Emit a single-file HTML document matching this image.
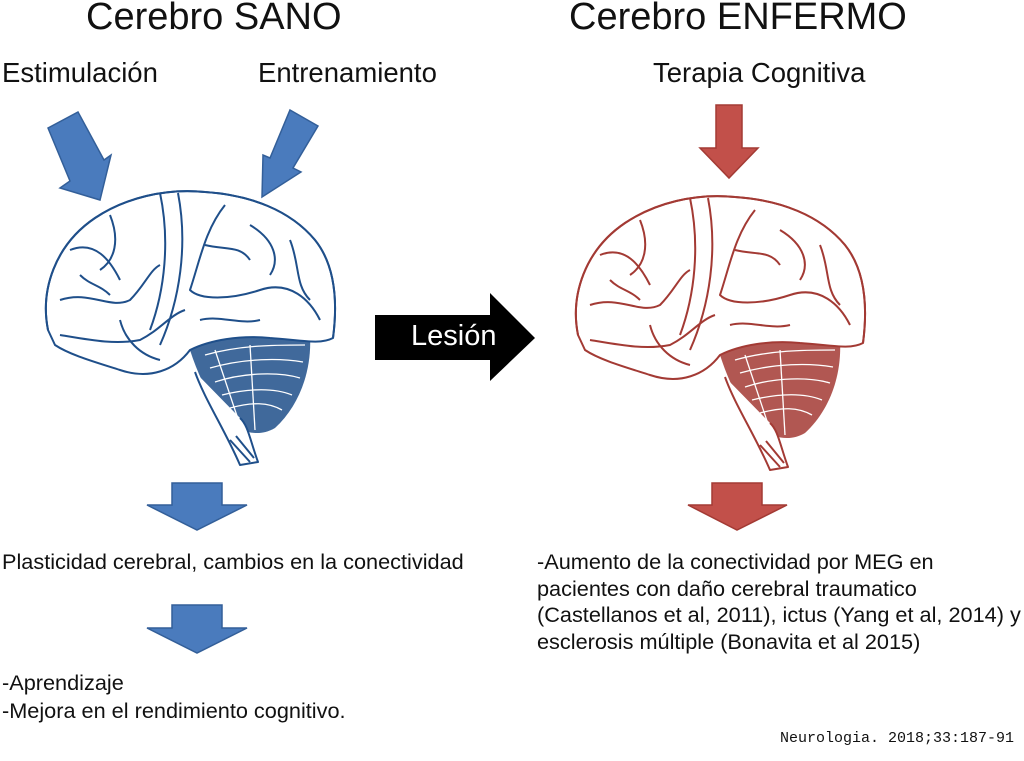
<!DOCTYPE html>
<html><head><meta charset="utf-8"><style>
html,body{margin:0;padding:0;background:#fff;}
body{width:1024px;height:761px;overflow:hidden;position:relative;font-family:"Liberation Sans",Arial,sans-serif;color:#111;}
.t{position:absolute;white-space:nowrap;}
</style></head><body>
<svg width="1024" height="761" style="position:absolute;left:0;top:0">
<defs>
<g id="brain" fill="none" stroke="currentColor" stroke-width="2" stroke-linejoin="round">
 <path d="M190,350 C215,335 260,330 310,335 C312,370 300,405 275,428 C258,438 240,432 225,420 C210,400 198,375 190,350Z" fill="currentColor" stroke="none" opacity="0.85"/>
 <g stroke="#fff" stroke-width="1.3">
  <path d="M205,355 C240,345 275,345 305,345"/><path d="M210,368 C245,358 280,358 303,362"/>
  <path d="M215,382 C245,372 280,372 300,378"/><path d="M222,395 C250,388 275,388 292,395"/>
  <path d="M230,408 C252,402 268,402 282,410"/><path d="M215,350 L240,425"/><path d="M250,345 L255,430"/>
 </g>
 <path d="M48,330 C40,290 55,245 95,218 C125,198 165,188 205,192 C250,195 290,210 315,240 C335,265 338,300 333,338 C320,345 300,340 270,338 C240,335 210,340 190,350 C175,370 150,380 120,370 C95,362 70,355 55,345 Z" fill="#fff"/>
 <path d="M48,330 C40,290 55,245 95,218 C125,198 165,188 205,192 C250,195 290,210 315,240 C335,265 338,300 333,338"/>
 <path d="M195,372 C205,400 225,430 240,465 L258,462 C250,440 248,425 240,418" fill="#fff"/>
 <path d="M230,440 L250,462 M236,436 L254,458"/>
 <path d="M160,193 C170,240 165,290 150,330"/>
 <path d="M178,193 C188,245 180,300 160,345"/>
 <path d="M225,205 C205,230 200,260 190,290 C200,300 230,300 260,290 C290,280 310,300 320,320"/>
 <path d="M60,300 C90,290 110,310 130,300 C145,285 150,270 160,265"/>
 <path d="M70,250 C95,240 110,260 120,280"/>
 <path d="M110,215 C120,240 115,260 100,270"/>
 <path d="M250,225 C275,240 280,260 270,275"/>
 <path d="M290,240 C300,265 295,285 310,300"/>
 <path d="M60,335 C90,340 115,345 140,340 C160,330 170,315 185,310"/>
 <path d="M200,320 C220,315 240,325 260,320"/>
 <path d="M120,320 C125,340 140,355 160,360"/>
 <path d="M205,245 C225,250 240,245 250,260"/>
 <path d="M80,275 C90,285 100,285 110,295"/>
</g>
</defs>
<use href="#brain" x="0" y="0" style="color:#1f4f8a"/>
<use href="#brain" x="530" y="5" style="color:#a33a34"/>
<polygon points="48,128 78,112 104,160 111,155 100,200 60,188 70,181" fill="#4a7bbd" stroke="#335f99" stroke-width="1.5"/>
<polygon points="290,110 318,126 293,168 301,172 262,197 263,155 270,158" fill="#4a7bbd" stroke="#335f99" stroke-width="1.5"/>
<polygon points="716,105 742,105 742,148 758,148 729,178 700,148 716,148" fill="#c2504a" stroke="#a33a34" stroke-width="1.5"/>
<polygon points="375,315 490,315 490,293 535,338 490,381 490,360 375,360" fill="#000"/>
<polygon points="172,483 222,483 222,505 247,505 197,530 147,505 172,505" fill="#4a7bbd" stroke="#335f99" stroke-width="1.5"/>
<polygon points="172,605 222,605 222,628 247,628 197,653 147,628 172,628" fill="#4a7bbd" stroke="#335f99" stroke-width="1.5"/>
<polygon points="712,483 762,483 762,505 787,505 737,530 688,505 712,505" fill="#c2504a" stroke="#a33a34" stroke-width="1.5"/>
</svg>
<div class="t" style="left:86px;top:-4px;font-size:38px">Cerebro SANO</div>
<div class="t" style="left:569px;top:-4px;font-size:38px">Cerebro ENFERMO</div>
<div class="t" style="left:2px;top:57px;font-size:27.5px">Estimulación</div>
<div class="t" style="left:258px;top:57px;font-size:27.5px">Entrenamiento</div>
<div class="t" style="left:653px;top:57px;font-size:27.5px">Terapia Cognitiva</div>
<div class="t" style="left:411px;top:320px;font-size:29px;color:#fff">Lesión</div>
<div class="t" style="left:2px;top:549px;font-size:21.7px">Plasticidad cerebral, cambios en la conectividad</div>
<div class="t" style="left:537px;top:549px;font-size:21.7px;line-height:26.5px">-Aumento de la conectividad por MEG en<br>pacientes con daño cerebral traumatico<br>(Castellanos et al, 2011), ictus (Yang et al, 2014) y<br>esclerosis múltiple (Bonavita et al 2015)</div>
<div class="t" style="left:2px;top:669px;font-size:21.7px;line-height:28px">-Aprendizaje<br>-Mejora en el rendimiento cognitivo.</div>
<div class="t" style="left:780px;top:730px;font-size:15px;font-family:'Liberation Mono',monospace">Neurologia. 2018;33:187-91</div>
</body></html>
